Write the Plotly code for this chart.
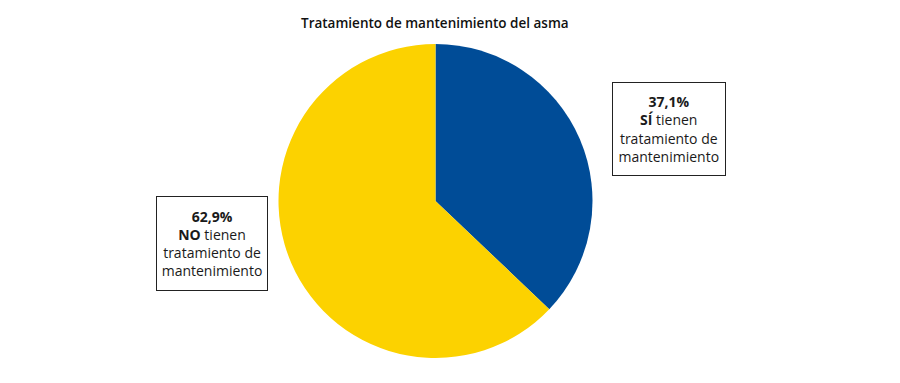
import plotly.graph_objects as go

labels = ["SÍ tienen tratamiento de mantenimiento", "NO tienen tratamiento de mantenimiento"]
values = [37.1, 62.9]
colors = ["#004C97", "#FCD200"]
title = "Tratamiento de mantenimiento del asma"

W, H = 900, 383
cx, cy, r = 435.5, 201, 157

fig = go.Figure(go.Pie(
    labels=labels, values=values, sort=False, direction="clockwise", rotation=0,
    marker=dict(colors=colors, line=dict(width=0)),
    textinfo="none", hoverinfo="label+percent", showlegend=False,
    domain=dict(x=[(cx - r) / W, (cx + r) / W], y=[1 - (cy + r) / H, 1 - (cy - r) / H]),
))

font = "Open Sans, Noto Sans, sans-serif"

def box(text, x0, y0, x1, y1):
    fig.add_annotation(
        x=(x0 + x1) / 2 / W, y=1 - (y0 + y1) / 2 / H, xref="paper", yref="paper",
        text=text, showarrow=False, align="center", xanchor="center", yanchor="middle",
        width=x1 - x0 - 4, height=y1 - y0 - 4, borderpad=1, bordercolor="#222", borderwidth=1,
        bgcolor="white", font=dict(family=font, size=14, color="#1a1a1a"),
    )

box(f"<b>{str(values[0]).replace('.', ',')}%</b><br><b>SÍ</b> tienen<br>tratamiento de<br>mantenimiento", 612.5, 82, 726, 176)
box(f"<b>{str(values[1]).replace('.', ',')}%</b><br><b>NO</b> tienen<br>tratamiento de<br>mantenimiento", 156, 196, 268, 291)

fig.add_annotation(x=435 / W, y=1 - 23 / H, xref="paper", yref="paper", text=title,
                   showarrow=False, xanchor="center", yanchor="middle",
                   font=dict(family=font, size=13.5, color="#111", weight=600))

fig.update_layout(width=W, height=H, margin=dict(l=0, r=0, t=0, b=0),
                  paper_bgcolor="white", plot_bgcolor="white")
fig.write_html("out.html")
